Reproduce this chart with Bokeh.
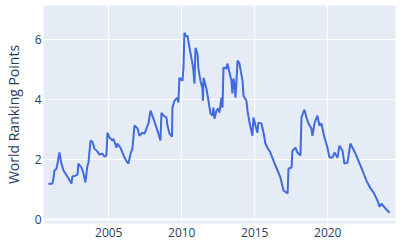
from bokeh.plotting import figure
from bokeh.models import Range1d, FixedTicker, Span
from bokeh.embed import file_html
from bokeh.resources import INLINE

years = [2000.87, 2001.14, 2001.21, 2001.28, 2001.42, 2001.49, 2001.62, 2001.76, 2001.90, 2002.03,
         2002.24, 2002.45, 2002.51, 2002.72, 2002.86, 2002.92, 2003.13, 2003.27, 2003.40, 2003.54,
         2003.61, 2003.75, 2003.88, 2004.02, 2004.23, 2004.36, 2004.57, 2004.71, 2004.84, 2004.91,
         2005.05, 2005.25, 2005.32, 2005.53, 2005.60, 2005.80, 2005.94, 2006.08, 2006.28, 2006.35,
         2006.49, 2006.62, 2006.76, 2006.97, 2007.10, 2007.31, 2007.45, 2007.58, 2007.72, 2007.86,
         2008.06, 2008.27, 2008.40, 2008.54, 2008.61, 2008.75, 2008.95, 2009.02, 2009.16, 2009.33,
         2009.36, 2009.50, 2009.71, 2009.77, 2009.84, 2010.05, 2010.12, 2010.18, 2010.32, 2010.39,
         2010.53, 2010.73, 2010.80, 2010.87, 2010.94, 2011.08, 2011.14, 2011.28, 2011.42, 2011.45,
         2011.49, 2011.69, 2011.83, 2011.97, 2012.10, 2012.17, 2012.24, 2012.38, 2012.51, 2012.58,
         2012.72, 2012.79, 2012.86, 2013.06, 2013.13, 2013.27, 2013.40, 2013.47, 2013.54, 2013.61,
         2013.68, 2013.75, 2013.82, 2013.95, 2014.16, 2014.23, 2014.43, 2014.50, 2014.64, 2014.84,
         2014.91, 2015.05, 2015.18, 2015.25, 2015.46, 2015.60, 2015.73, 2015.87, 2016.07, 2016.28,
         2016.56, 2016.76, 2016.97, 2017.25, 2017.31, 2017.52, 2017.58, 2017.79, 2017.92, 2018.13,
         2018.20, 2018.40, 2018.54, 2018.68, 2018.88, 2018.95, 2019.09, 2019.29, 2019.43, 2019.57,
         2019.71, 2019.98, 2020.12, 2020.32, 2020.46, 2020.67, 2020.80, 2021.01, 2021.14, 2021.35,
         2021.55, 2021.76, 2021.90, 2022.10, 2022.38, 2022.65, 2022.93, 2023.14, 2023.41, 2023.55,
         2023.68, 2023.96, 2024.23]
points = [1.20, 1.20, 1.37, 1.64, 1.70, 1.87, 2.24, 1.87, 1.64, 1.54,
          1.37, 1.20, 1.44, 1.47, 1.50, 1.87, 1.74, 1.54, 1.24, 1.80,
          1.90, 2.64, 2.60, 2.37, 2.27, 2.17, 2.20, 2.10, 2.14, 2.90,
          2.74, 2.64, 2.70, 2.40, 2.54, 2.40, 2.24, 2.07, 1.90, 1.87,
          2.20, 2.37, 3.14, 3.04, 2.80, 2.90, 2.87, 3.04, 3.21, 3.64,
          3.37, 3.07, 2.87, 2.64, 3.57, 3.47, 3.41, 3.14, 2.87, 2.77,
          3.74, 3.97, 4.07, 3.91, 4.74, 4.64, 5.08, 6.24, 6.11, 6.14,
          5.74, 5.21, 4.97, 4.54, 5.74, 5.54, 5.04, 4.64, 4.37, 3.97,
          4.74, 4.37, 3.97, 3.54, 3.47, 3.74, 3.37, 3.64, 3.71, 3.57,
          4.07, 3.74, 5.08, 5.04, 5.21, 4.91, 4.64, 4.21, 4.71, 4.54,
          4.07, 4.64, 5.31, 5.21, 4.64, 4.14, 3.97, 3.64, 3.24, 2.80,
          3.41, 3.14, 2.90, 3.24, 3.21, 2.90, 2.54, 2.40, 2.24, 1.97,
          1.64, 1.40, 0.97, 0.87, 1.70, 1.74, 2.30, 2.40, 2.24, 2.14,
          3.41, 3.67, 3.41, 3.21, 3.04, 2.80, 3.21, 3.47, 3.14, 3.21,
          2.87, 2.40, 2.07, 2.07, 2.24, 2.07, 2.47, 2.30, 1.87, 1.90,
          2.54, 2.34, 2.20, 1.97, 1.64, 1.30, 1.04, 0.90, 0.63, 0.43,
          0.53, 0.37, 0.23]
x_ticks = [2005, 2010, 2015, 2020]
y_ticks = [0, 2, 4, 6]
y_label = "World Ranking Points"

FONT = "Open Sans"
TXT = "#2a3f5f"

p = figure(width=400, height=250, frame_width=352, frame_height=218,
           output_backend="svg", toolbar_location=None,
           x_range=Range1d(2000.53, 2024.64), y_range=Range1d(-0.13, 7.15),
           min_border_left=43, min_border_right=5, min_border_top=5, min_border_bottom=27)
p.background_fill_color = "#E5ECF6"
p.border_fill_color = "white"
p.outline_line_color = None

p.xaxis.ticker = FixedTicker(ticks=x_ticks)
p.yaxis.ticker = FixedTicker(ticks=y_ticks)
for ax in (p.xaxis[0], p.yaxis[0]):
    ax.axis_line_color = None
    ax.major_tick_line_color = None
    ax.minor_tick_line_color = None
    ax.major_tick_in = 0
    ax.major_tick_out = 0
    ax.minor_tick_in = 0
    ax.minor_tick_out = 0
    ax.major_label_text_color = TXT
    ax.major_label_text_font = FONT
    ax.major_label_text_font_size = "12px"
p.xaxis.major_label_standoff = 4
p.yaxis.major_label_standoff = 2
p.yaxis.axis_label = y_label
p.yaxis.axis_label_text_font = FONT
p.yaxis.axis_label_text_font_size = "14px"
p.yaxis.axis_label_text_font_style = "normal"
p.yaxis.axis_label_text_color = TXT
p.yaxis.axis_label_standoff = 9

p.xgrid.grid_line_color = "white"
p.ygrid.grid_line_color = "white"
p.xgrid.grid_line_width = 1
p.ygrid.grid_line_width = 1
p.add_layout(Span(location=0, dimension="width", line_color="white", line_width=2))

p.line(years, points, line_color="#4169E1", line_width=2)

open("out.html", "w").write(file_html(p, INLINE))
